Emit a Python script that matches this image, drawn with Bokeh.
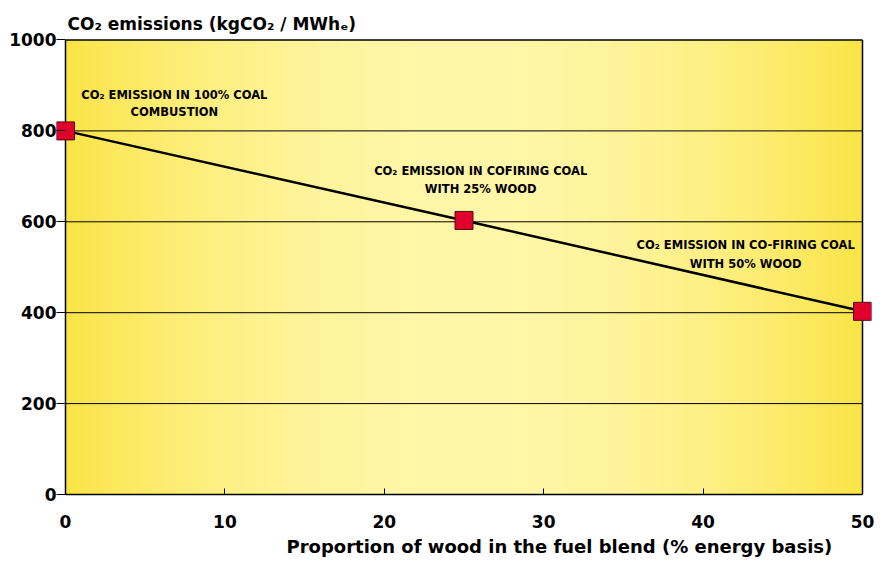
import numpy as np
from bokeh.plotting import figure
from bokeh.models import FixedTicker, Range1d, ColumnDataSource, Title
from bokeh.core.properties import value
from bokeh.embed import file_html
from bokeh.resources import INLINE

# ---- data ----
wood_pct = [0, 25, 50]
co2_emissions = [800, 603, 403]
x_ticks = [0, 10, 20, 30, 40, 50]
y_ticks = [0, 200, 400, 600, 800, 1000]
grid_levels = [200, 400, 600, 800]
ann_line1 = ["CO\u2082 EMISSION IN 100% COAL", "CO\u2082 EMISSION IN COFIRING COAL", "CO\u2082 EMISSION IN CO-FIRING COAL"]
ann_line2 = ["COMBUSTION", "WITH 25% WOOD", "WITH 50% WOOD"]
ann_x = [6.83, 26.05, 42.67]
ann_y1 = [878, 711, 549]
ann_y2 = [842, 672, 508]
y_title = "CO\u2082 emissions (kgCO\u2082 / MWh\u2091)"
x_title = "Proportion of wood in the fuel blend (% energy basis)"

FONT = "DejaVu Sans"
W, H = 874, 560
BL, BR, BT, BB = 56, 3, 38, 63
X0, X1, Y0, Y1 = 0, 50, 0, 1000
PAD = 9  # px of free space left/right of the plotting area so edge markers are not clipped

sx = (W - BL - BR - 2 * PAD) / (X1 - X0)
sy = (H - BT - BB - 1.5) / (Y1 - Y0)

p = figure(width=W, height=H, output_backend="svg", toolbar_location=None,
           x_range=Range1d(X0 - PAD / sx, X1 + PAD / sx), y_range=Range1d(Y0, Y1 + 1.5 / sy),
           min_border_left=BL, min_border_right=BR, min_border_top=BT, min_border_bottom=BB)
p.background_fill_color = "white"
p.border_fill_color = "white"
p.outline_line_color = None

# gradient background (style only): light centre, saturated yellow edges
n = 400
xs = np.linspace(-1, 1, n)
f = np.abs(xs) ** 2.0
c_center = np.array([255, 246, 168])
c_edge = np.array([250, 228, 70])
rgb = c_center[None, :] + (c_edge - c_center)[None, :] * f[:, None]
img = np.zeros((2, n), dtype=np.uint32)
view = img.view(dtype=np.uint8).reshape((2, n, 4))
view[:, :, 0] = rgb[:, 0].round().astype(np.uint8)
view[:, :, 1] = rgb[:, 1].round().astype(np.uint8)
view[:, :, 2] = rgb[:, 2].round().astype(np.uint8)
view[:, :, 3] = 255
p.image_rgba(image=[img], x=X0, y=Y0, dw=X1 - X0, dh=Y1 - Y0)

# grid lines and frame borders (left, top, right)
p.xgrid.visible = False
p.ygrid.visible = False
p.segment(x0=X0, x1=X1, y0=grid_levels, y1=grid_levels, line_color="black", line_width=1)
p.segment(x0=[X0, X0, X1], x1=[X0, X1, X1], y0=[Y0, Y1, Y0], y1=[Y1, Y1, Y1],
          line_color="black", line_width=1.5)

# x axis
xax = p.xaxis[0]
xax.ticker = FixedTicker(ticks=x_ticks)
xax.bounds = (X0, X1)
xax.axis_line_color = "black"
xax.axis_line_width = 1.5
xax.major_tick_in = 6
xax.major_tick_out = 0
xax.major_label_standoff = 20

# y axis: labels and ticks; its own line hidden (the border at x = 0 is drawn above)
yax = p.yaxis[0]
yax.ticker = FixedTicker(ticks=y_ticks)
yax.axis_line_color = None
yax.major_tick_in = PAD
yax.major_tick_out = 0
yax.major_label_standoff = 0

for ax in (xax, yax):
    ax.major_tick_line_color = "black"
    ax.major_tick_line_width = 1
    ax.minor_tick_line_color = None
    ax.major_label_text_font = FONT
    ax.major_label_text_font_style = "bold"
    ax.major_label_text_font_size = "17px"
    ax.major_label_text_color = "black"

# titles
p.add_layout(Title(text=y_title, align="left", offset=PAD + 2, standoff=10,
                   text_font=FONT, text_font_style="bold", text_font_size="17px",
                   text_color="black"), "above")
p.add_layout(Title(text=x_title, align="left", offset=230, standoff=7,
                   text_font=FONT, text_font_style="bold", text_font_size="18px",
                   text_color="black"), "below")

# data line and markers
src = ColumnDataSource(dict(x=wood_pct, y=co2_emissions))
p.line("x", "y", source=src, line_color="black", line_width=2.5)
p.scatter("x", "y", source=src, marker="square", size=18, fill_color="#E0002B",
          line_color="#4a1010", line_width=1)

# annotations
asrc = ColumnDataSource(dict(x=ann_x, y1=ann_y1, y2=ann_y2, t1=ann_line1, t2=ann_line2))
for ycol, tcol in (("y1", "t1"), ("y2", "t2")):
    p.text(x="x", y=ycol, text=tcol, source=asrc, text_font=value(FONT), text_font_style="bold",
           text_font_size="11.5px", text_align="center", text_baseline="middle", text_color="black")

open("out.html", "w").write(file_html(p, INLINE))
